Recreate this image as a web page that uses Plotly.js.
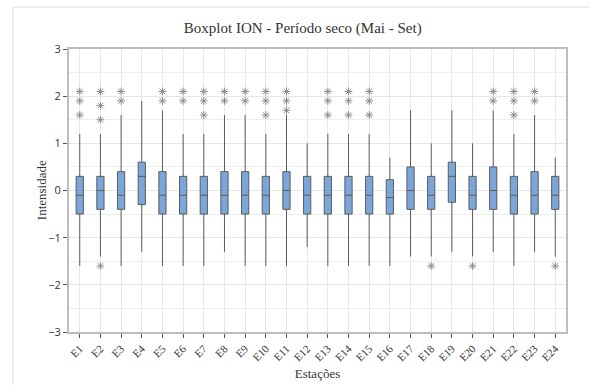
<!DOCTYPE html>
<html>
<head>
<meta charset="utf-8">
<script src="https://cdn.plot.ly/plotly-3.0.1.min.js"></script>
<style>html,body{margin:0;padding:0;background:#fff;}#chart{width:589px;height:385px;}</style>
</head>
<body>
<div id="chart"></div>
<script>
const stations = ["E1","E2","E3","E4","E5","E6","E7","E8","E9","E10","E11","E12","E13","E14","E15","E16","E17","E18","E19","E20","E21","E22","E23","E24"];
const q1  = [-0.5,-0.4,-0.4,-0.3,-0.5,-0.5,-0.5,-0.5,-0.5,-0.5,-0.4,-0.5,-0.5,-0.5,-0.5,-0.5,-0.4,-0.4,-0.25,-0.4,-0.4,-0.5,-0.5,-0.4];
const med = [-0.1,0.0,-0.1,0.3,-0.1,-0.1,-0.1,-0.1,-0.1,-0.1,0.0,-0.1,-0.1,-0.1,-0.1,-0.15,0.0,-0.1,0.3,-0.1,0.0,-0.1,-0.1,-0.1];
const q3  = [0.3,0.3,0.4,0.6,0.4,0.3,0.3,0.4,0.4,0.3,0.4,0.3,0.3,0.3,0.3,0.23,0.5,0.3,0.6,0.3,0.5,0.3,0.4,0.3];
const lo  = [-1.6,-1.4,-1.6,-1.3,-1.6,-1.6,-1.6,-1.3,-1.6,-1.6,-1.6,-1.2,-1.6,-1.6,-1.6,-1.6,-1.4,-1.4,-1.3,-1.4,-1.3,-1.6,-1.3,-1.4];
const hi  = [1.2,1.2,1.6,1.9,1.7,1.2,1.2,1.6,1.6,1.2,1.6,1.0,1.2,1.2,1.2,0.7,1.7,1.0,1.7,1.0,1.7,1.2,1.6,0.7];
const outStation = ["E1","E1","E1","E2","E2","E2","E2","E3","E3","E5","E5","E6","E6","E7","E7","E7","E8","E8","E9","E9","E10","E10","E10","E11","E11","E11","E13","E13","E13","E14","E14","E14","E15","E15","E15","E18","E20","E21","E21","E22","E22","E22","E23","E23","E24"];
const outValue   = [2.1,1.9,1.6,2.1,1.8,1.5,-1.6,2.1,1.9,2.1,1.9,2.1,1.9,2.1,1.9,1.6,2.1,1.9,2.1,1.9,2.1,1.9,1.6,2.1,1.9,1.7,2.1,1.9,1.6,2.1,1.9,1.6,2.1,1.9,1.6,-1.6,-1.6,2.1,1.9,2.1,1.9,1.6,2.1,1.9,-1.6];

const traces = [
  {
    type: "box",
    x: stations,
    q1: q1, median: med, q3: q3,
    lowerfence: lo, upperfence: hi,
    boxpoints: false,
    width: 0.35,
    fillcolor: "#7ba6da",
    line: {color: "#5c5c5c", width: 1},
    whiskerwidth: 0,
    hoverinfo: "skip",
    showlegend: false
  },
  {
    type: "scatter",
    mode: "markers",
    x: outStation,
    y: outValue,
    marker: {symbol: "asterisk-open", size: 6.5, color: "#8c8c8c", line: {color: "#8c8c8c", width: 1}},
    hoverinfo: "skip",
    showlegend: false
  }
];

const layout = {
  width: 589, height: 385,
  margin: {l: 69, r: 23, t: 49, b: 53},
  paper_bgcolor: "#ffffff",
  plot_bgcolor: "#ffffff",
  title: {
    text: "Boxplot ION - Período seco (Mai - Set)",
    font: {family: "Liberation Serif", size: 15, color: "#333333"},
    xref: "container", x: 0.514, xanchor: "center",
    yref: "container", y: 0.927, yanchor: "middle"
  },
  xaxis: {
    type: "category",
    range: [-0.52, 23.52],
    tickangle: -45,
    tickfont: {family: "Liberation Serif", size: 11, color: "#333333"},
    ticks: "outside", ticklen: 4, tickcolor: "#555555",
    showgrid: true, gridcolor: "#e8e8e8", gridwidth: 1,
    showline: true, linecolor: "#bdbdbd", linewidth: 2, mirror: true,
    zeroline: false,
    title: {text: "Estações", font: {family: "Liberation Serif", size: 13, color: "#333333"}, standoff: 6}
  },
  yaxis: {
    range: [-3, 3],
    dtick: 1, tick0: 0,
    tickfont: {family: "Open Sans", size: 11, color: "#333333"},
    ticks: "outside", ticklen: 4, tickcolor: "#555555",
    showgrid: true, gridcolor: "#e6e6e6", gridwidth: 1,
    minor: {dtick: 0.5, showgrid: true, gridcolor: "#eeeeee", ticks: ""},
    showline: true, linecolor: "#bdbdbd", linewidth: 2, mirror: true,
    zeroline: false
  },
  annotations: [
    {text: "Intensidade", textangle: -90, xref: "paper", yref: "paper",
     x: -0.055, y: 0.5, xanchor: "center", yanchor: "middle", showarrow: false,
     font: {family: "Liberation Serif", size: 13, color: "#333333"}}
  ],
  shapes: [
    {type: "rect", xref: "paper", yref: "paper", x0: -0.113, x1: 1.3, y0: -0.4, y1: 1.148,
     line: {color: "#dcdcdc", width: 1}, fillcolor: "rgba(0,0,0,0)", layer: "below"}
  ]
};

Plotly.newPlot("chart", traces, layout, {displayModeBar: false, staticPlot: true});
</script>
</body>
</html>
